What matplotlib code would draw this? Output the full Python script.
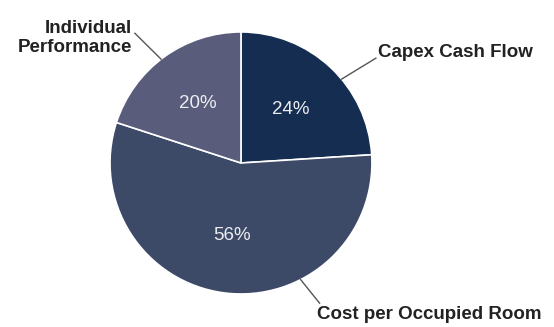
import numpy as np
import matplotlib
matplotlib.use("Agg")
import matplotlib.pyplot as plt

plt.rcParams["font.family"] = ["Liberation Sans", "DejaVu Sans"]

labels = ["Capex Cash Flow", "Cost per Occupied Room", "Individual\nPerformance"]
shares = [24, 56, 20]
colors = ["#142d50", "#3c4967", "#595d7b"]

# label placement: (edge angle in degrees, line end, text anchor, ha)
label_pos = [
    (39.8, (1.03, 0.80), (1.045, 0.845), "left"),
    (-62.9, (0.60, -1.07), (0.58, -1.16), "left"),
    (127.6, (-0.81, 0.99), (-0.83, 0.955), "right"),
]

fig = plt.figure(figsize=(5.54, 3.27), dpi=100)
ax = fig.add_axes([0, 0, 1, 1])

wedges, texts, autotexts = ax.pie(
    shares, colors=colors, startangle=90, counterclock=False,
    autopct="%d%%", pctdistance=0.56,
    wedgeprops=dict(edgecolor="white", linewidth=1.2),
    textprops=dict(color="#ececf0", fontsize=13.5),
)

for lab, (ang, end, txt, ha) in zip(labels, label_pos):
    a = np.deg2rad(ang)
    start = (np.cos(a), np.sin(a))
    ax.plot([start[0], end[0]], [start[1], end[1]], color="#555555", lw=1)
    ax.text(txt[0], txt[1], lab, ha=ha, va="center", fontsize=13.5,
            fontweight="bold", color="#222222", linespacing=1.2)

ax.set_xlim(-1.84, 2.39)
ax.set_ylim(-1.252, 1.244)
ax.set_aspect("auto")
ax.axis("off")

fig.savefig("out.png", dpi=100)
